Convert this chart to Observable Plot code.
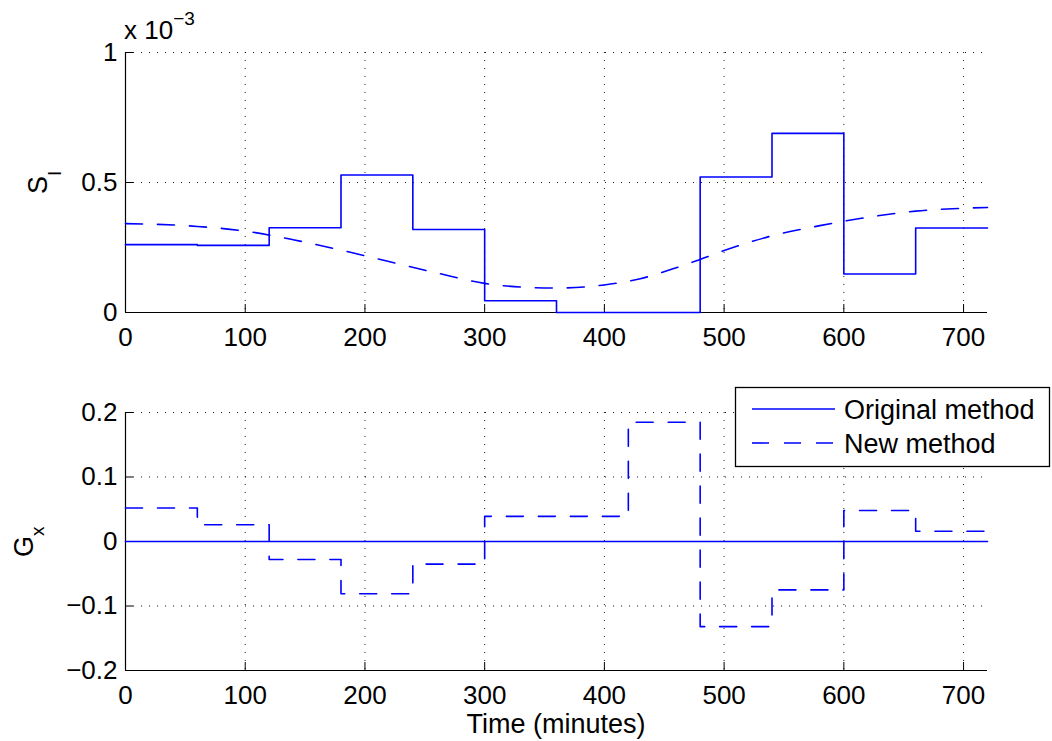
<!DOCTYPE html>
<html>
<head>
<meta charset="utf-8">
<script src="https://cdn.jsdelivr.net/npm/d3@7"></script>
<script src="https://cdn.jsdelivr.net/npm/@observablehq/plot@0.6"></script>
<style>
  body { margin: 0; background: #fff; }
  #fig { position: relative; width: 1052px; height: 741px; font-family: "Liberation Sans", Arial, sans-serif; }
  #fig > svg { position: absolute; left: 0; }
</style>
</head>
<body>
<div id="fig"></div>
<script>
// Interval start times (minutes); the last entry closes the final stair.
const stepTimes = [0, 60, 120, 180, 240, 300, 360, 420, 480, 540, 600, 660, 720];

// S_I per interval, original method (units of 1e-3)
const siOriginal = [0.261, 0.258, 0.326, 0.529, 0.319, 0.045, 0.0, 0.0, 0.521, 0.689, 0.148, 0.325, 0.325];

// S_I, new method, smooth profile (units of 1e-3)
const curveTimes = [0, 60, 100, 140, 180, 220, 260, 300, 330, 360, 400, 430, 460, 480, 500, 540, 580, 620, 660, 700, 720];
const siNew = [0.342, 0.331, 0.313, 0.280, 0.240, 0.196, 0.152, 0.112, 0.098, 0.094, 0.106, 0.130, 0.172, 0.204, 0.238, 0.295, 0.334, 0.366, 0.390, 0.401, 0.404];

// G_x per interval
const gxOriginal = [0, 0, 0, 0, 0, 0, 0, 0, 0, 0, 0, 0, 0];
const gxNew = [0.052, 0.026, -0.028, -0.081, -0.035, 0.039, 0.039, 0.185, -0.132, -0.075, 0.048, 0.016, 0.016];

const xTicks = [0, 100, 200, 300, 400, 500, 600, 700];
const siTicks = [0, 0.5, 1];
const gxTicks = [-0.2, -0.1, 0, 0.1, 0.2];

const blue = "#0000ff";
const dash = "17,15";
const gridStyle = { stroke: "#000", strokeOpacity: 0.9, strokeDasharray: "1,7", strokeWidth: 1 };
const font = "'Liberation Sans', Arial, sans-serif";
const fmtSigned = d => (d < 0 ? "\u2212" + Math.abs(d) : String(d));

const siOrigData = stepTimes.map((t, i) => ({ t, v: siOriginal[i] * 1e-3 }));
const siNewData = curveTimes.map((t, i) => ({ t, v: siNew[i] * 1e-3 }));
const gxOrigData = stepTimes.map((t, i) => ({ t, v: gxOriginal[i] }));
const gxNewData = stepTimes.map((t, i) => ({ t, v: gxNew[i] }));

function axesMarks(yTicks, yFormat, yMin) {
  return [
    Plot.gridX(xTicks.filter(d => d > 0), gridStyle),
    Plot.gridY(yTicks.filter(d => d !== yMin), gridStyle),
    Plot.ruleX([0], { stroke: "#000", strokeWidth: 1.2 }),
    Plot.ruleY([yMin], { stroke: "#000", strokeWidth: 1.2 }),
    Plot.axisX({ ticks: xTicks, tickSize: -8, tickFormat: () => "", label: null }),
    Plot.axisX({ ticks: xTicks, tickSize: 0, tickPadding: 15, label: null, fontSize: 26 }),
    Plot.axisY({ ticks: yTicks, tickSize: -8, tickFormat: () => "", label: null }),
    Plot.axisY({ ticks: yTicks, tickSize: 0, tickPadding: 8, tickFormat: yFormat, label: null, fontSize: 26 })
  ];
}

const siChart = Plot.plot({
  width: 1052, height: 370,
  marginTop: 52, marginBottom: 58, marginLeft: 125, marginRight: 65,
  style: { fontFamily: font, fontSize: "26px", color: "#000", background: "transparent", overflow: "visible" },
  x: { domain: [0, 720] },
  y: { domain: [0, 1e-3] },
  marks: [
    ...axesMarks(siTicks.map(d => d * 1e-3), d => fmtSigned(+(d * 1e3).toFixed(3)), 0),
    Plot.line(siOrigData, { x: "t", y: "v", curve: "step-after", stroke: blue, strokeWidth: 1.6 }),
    Plot.line(siNewData, { x: "t", y: "v", curve: "monotone-x", stroke: blue, strokeWidth: 1.6, strokeDasharray: dash })
  ]
});
siChart.style.top = "0px";

const gxChart = Plot.plot({
  width: 1052, height: 371,
  marginTop: 42, marginBottom: 71, marginLeft: 125, marginRight: 65,
  style: { fontFamily: font, fontSize: "26px", color: "#000", background: "transparent", overflow: "visible" },
  x: { domain: [0, 720] },
  y: { domain: [-0.2, 0.2] },
  marks: [
    ...axesMarks(gxTicks, fmtSigned, -0.2),
    Plot.line(gxOrigData, { x: "t", y: "v", curve: "step-after", stroke: blue, strokeWidth: 1.6 }),
    Plot.line(gxNewData, { x: "t", y: "v", curve: "step-after", stroke: blue, strokeWidth: 1.6, strokeDasharray: dash })
  ]
});
gxChart.style.top = "370px";

const fig = document.getElementById("fig");
fig.append(siChart, gxChart);

// Axis titles, exponent note and legend
const overlay = d3.select(fig).append("svg")
  .attr("width", 1052).attr("height", 741)
  .style("top", "0px")
  .attr("font-family", font)
  .attr("fill", "#000");

const siLabel = overlay.append("text")
  .attr("transform", "translate(47,194) rotate(-90)")
  .attr("font-size", 27);
siLabel.append("tspan").text("S");
siLabel.append("tspan").attr("dy", 14).attr("font-size", 19).text("I");

const gxLabel = overlay.append("text")
  .attr("transform", "translate(33,557) rotate(-90)")
  .attr("font-size", 27);
gxLabel.append("tspan").text("G");
gxLabel.append("tspan").attr("dy", 11).attr("font-size", 19).text("x");

const expo = overlay.append("text")
  .attr("x", 124).attr("y", 39)
  .attr("font-size", 26);
expo.append("tspan").text("x 10");
expo.append("tspan").attr("dy", -14).attr("font-size", 19).text("\u22123");

overlay.append("text")
  .attr("x", 556).attr("y", 733)
  .attr("text-anchor", "middle")
  .attr("font-size", 27)
  .text("Time (minutes)");

const legendItems = [
  { label: "Original method", dash: null },
  { label: "New method", dash: dash }
];
const lg = overlay.append("g");
lg.append("rect")
  .attr("x", 735.5).attr("y", 387.5)
  .attr("width", 314).attr("height", 79)
  .attr("fill", "#fff").attr("stroke", "#000").attr("stroke-width", 1.3);
legendItems.forEach((d, i) => {
  const y = 409 + i * 34;
  lg.append("line")
    .attr("x1", 752).attr("x2", 835).attr("y1", y).attr("y2", y)
    .attr("stroke", blue).attr("stroke-width", 1.6)
    .attr("stroke-dasharray", d.dash);
  lg.append("text")
    .attr("x", 844).attr("y", y + 10)
    .attr("font-size", 27)
    .text(d.label);
});
</script>
</body>
</html>
